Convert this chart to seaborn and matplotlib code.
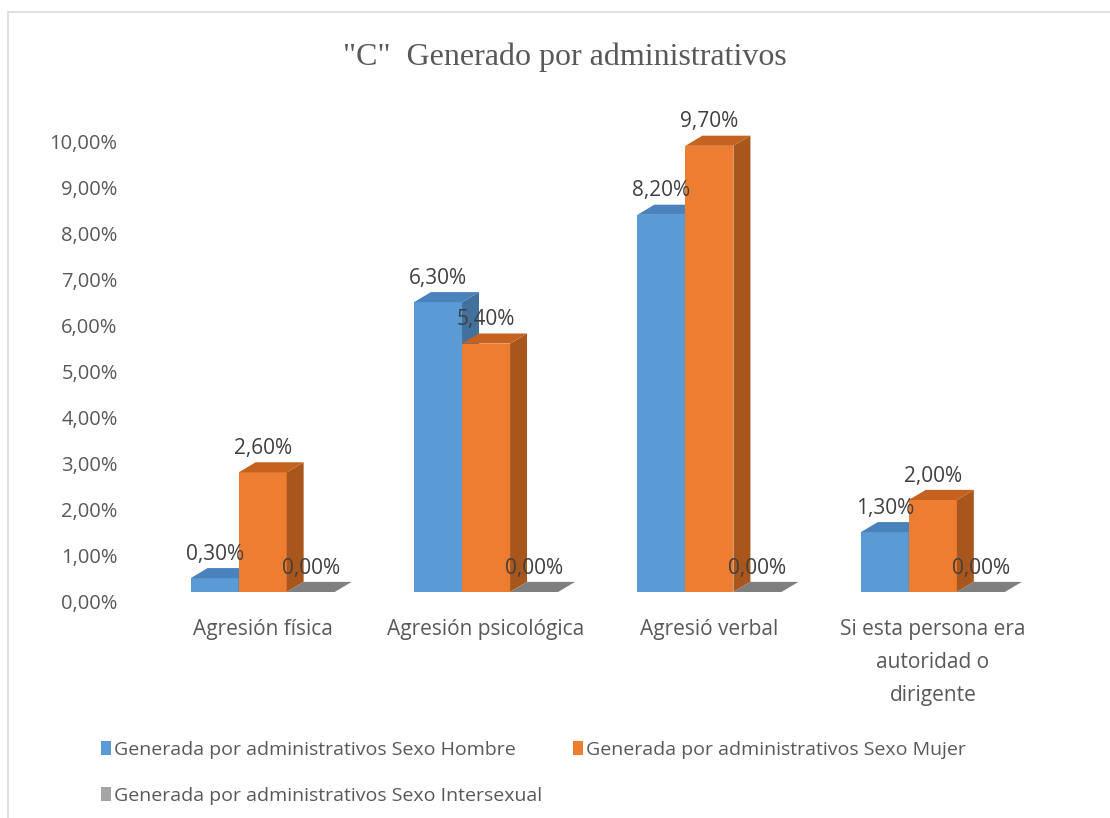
import numpy as np
import pandas as pd
import matplotlib
matplotlib.use("Agg")
import matplotlib.pyplot as plt
import matplotlib.transforms as mtransforms
import seaborn as sns
from matplotlib.patches import Polygon, Rectangle, Patch
from matplotlib.ticker import FuncFormatter

# Datos
categorias = ["Agresión física", "Agresión psicológica", "Agresió verbal",
              "Si esta persona era\nautoridad o\ndirigente"]
series = ["Generada por administrativos Sexo Hombre",
          "Generada por administrativos Sexo Mujer",
          "Generada por administrativos Sexo Intersexual"]
hombre = [0.3, 6.3, 8.2, 1.3]
mujer = [2.6, 5.4, 9.7, 2.0]
intersexual = [0.0, 0.0, 0.0, 0.0]

colores = ["#5B9BD5", "#ED7D31", "#A5A5A5"]
lados = ["#41719C", "#A9561D", "#6E6E6E"]
techos = ["#4A82BC", "#C5621F", "#7F7F7F"]

df = pd.DataFrame({
    "categoria": categorias * 3,
    "serie": [s for s in series for _ in categorias],
    "valor": hombre + mujer + intersexual,
})

sns.set_theme(style="white")
plt.rcParams["font.family"] = ["Open Sans", "DejaVu Sans"]

fig = plt.figure(figsize=(11.1, 8.18), dpi=100)
ax = fig.add_axes([0.136, 226 / 818, 0.805, 460 / 818])

sns.barplot(data=df, x="categoria", y="valor", hue="serie",
            palette=colores, width=0.645, saturation=1, ax=ax,
            legend=False, err_kws={"linewidth": 0})

# profundidad del efecto 3D (en unidades de datos)
dx, dy = 0.076, 0.22
color_map = {matplotlib.colors.to_hex(c): i for i, c in enumerate(colores)}
barras = sorted([p for p in ax.patches if isinstance(p, Rectangle)],
                key=lambda p: p.get_x())
for k, p in enumerate(barras):
    x0, w, h = p.get_x(), p.get_width(), p.get_height()
    i = color_map.get(matplotlib.colors.to_hex(p.get_facecolor()), 2)
    z = 3 + k * 0.01
    p.set_zorder(z)
    p.set_edgecolor("none")
    lado = Polygon([(x0 + w, 0), (x0 + w + dx, dy), (x0 + w + dx, h + dy), (x0 + w, h)],
                   closed=True, facecolor=lados[i], edgecolor="none", zorder=z,
                   clip_on=False)
    techo = Polygon([(x0, h), (x0 + dx, h + dy), (x0 + w + dx, h + dy), (x0 + w, h)],
                    closed=True, facecolor=techos[i], edgecolor="none", zorder=z,
                    clip_on=False)
    ax.add_patch(lado)
    ax.add_patch(techo)
    etiqueta = f"{h:.2f}%".replace(".", ",")
    ax.text(x0 + w / 2, h + dy + 0.30, etiqueta, ha="center", va="center",
            fontsize=15, color="#404040", zorder=10, clip_on=False)

ax.set_xlim(-0.5, 3.5)
ax.set_ylim(0, 10)
ax.set_yticks(np.arange(0, 11, 1))
ax.yaxis.set_major_formatter(FuncFormatter(lambda v, _: f"{v:.2f}%".replace(".", ",")))
ax.tick_params(axis="y", length=0, pad=24, labelsize=14.5, labelcolor="#595959")
ax.tick_params(axis="x", length=0, pad=19.5, labelsize=15, labelcolor="#595959")
# etiquetas del eje y un poco mas abajo (como en el grafico 3D original)
desplazar = mtransforms.ScaledTranslation(0, -10 / 100, fig.dpi_scale_trans)
for lbl in ax.get_yticklabels():
    lbl.set_transform(lbl.get_transform() + desplazar)
for lbl in ax.get_xticklabels():
    lbl.set_linespacing(1.75)
ax.set_xlabel("")
ax.set_ylabel("")
sns.despine(ax=ax, left=True, bottom=True)
ax.set_facecolor("none")

fig.text(565 / 1110, 1 - 57 / 818, '"C"  Generado por administrativos', ha="center",
         va="center", fontsize=23, color="#595959", family="Liberation Serif")

# marco del grafico
fig.patches.append(Rectangle((8 / 1110, -0.1), 1.2, 1 - 12 / 818 + 0.1,
                             transform=fig.transFigure, facecolor="none",
                             edgecolor="#D9D9D9", linewidth=1.2, zorder=0))

orden = [0, 2, 1]
handles = [Patch(facecolor=colores[i], edgecolor="none") for i in orden]
fig.legend(handles, [series[i] for i in orden], ncol=2, loc="upper left",
           bbox_to_anchor=(93 / 1110, 1 - 733 / 818), frameon=False, fontsize=14,
           labelcolor="#595959", handlelength=0.55, handleheight=0.7,
           handletextpad=0.15, columnspacing=1.55, labelspacing=1.45,
           borderaxespad=0)

fig.savefig("out.png", dpi=100)
